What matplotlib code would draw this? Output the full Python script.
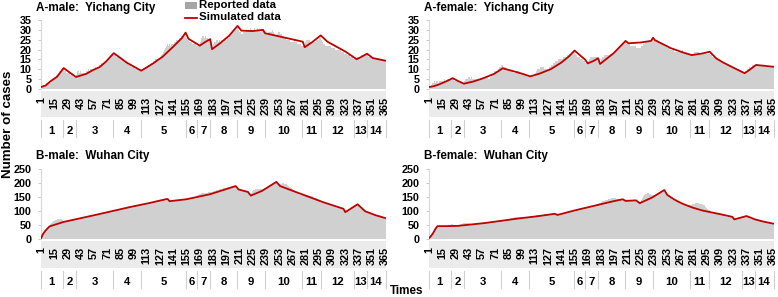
import numpy as np
import matplotlib
matplotlib.use("Agg")
import matplotlib.pyplot as plt
from matplotlib.patches import Rectangle
from matplotlib.lines import Line2D

plt.rcParams['font.family'] = ['Liberation Sans', 'DejaVu Sans']
plt.rcParams['font.weight'] = 'bold'

days = np.arange(1, 366)
tick_days = list(range(1, 366, 14))
group_edges = [1, 25, 39, 78, 107, 155, 167, 180, 209, 238, 278, 298, 333, 346, 366]
group_names = [str(i) for i in range(1, 15)]

# reported daily cases (14 days per row)
rep_a_male = [
    1, 0, 1, 2, 1, 2, 3, 2, 3, 4, 3, 4, 5, 5,
    6, 5, 7, 6, 8, 7, 9, 8, 10, 9, 10, 9, 9, 8,
    8, 8, 8, 7, 7, 7, 6, 6, 6, 6, 7, 9, 9, 8,
    9, 8, 8, 8, 8, 8, 9, 9, 10, 9, 10, 10, 10, 10,
    10, 10, 11, 10, 11, 11, 12, 12, 13, 12, 13, 13, 13, 14,
    14, 15, 15, 16, 16, 17, 17, 17, 17, 17, 16, 16, 16, 16,
    15, 15, 15, 14, 14, 14, 13, 13, 13, 12, 12, 12, 11, 11,
    11, 11, 10, 10, 10, 10, 9, 9, 9, 9, 10, 10, 10, 11,
    11, 11, 12, 12, 12, 13, 13, 14, 14, 15, 15, 15, 15, 15,
    16, 16, 17, 18, 19, 20, 21, 22, 23, 22, 23, 22, 23, 23,
    23, 24, 24, 25, 25, 25, 26, 26, 26, 27, 26, 27, 27, 27,
    26, 25, 25, 24, 24, 24, 23, 23, 23, 23, 22, 22, 22, 22,
    22, 24, 26, 27, 27, 26, 27, 26, 26, 25, 25, 25, 24, 21,
    22, 23, 24, 24, 25, 25, 24, 25, 24, 25, 24, 24, 25, 25,
    25, 26, 26, 27, 27, 28, 28, 29, 29, 30, 30, 30, 31, 30,
    29, 29, 28, 28, 29, 29, 29, 30, 30, 29, 30, 30, 31, 30,
    30, 30, 31, 30, 30, 31, 30, 30, 29, 30, 30, 29, 28, 28,
    28, 28, 28, 29, 29, 29, 29, 30, 29, 28, 27, 27, 28, 29,
    29, 28, 28, 27, 26, 26, 26, 26, 25, 25, 25, 25, 24, 24,
    24, 24, 25, 24, 24, 23, 23, 23, 23, 23, 22, 22, 22, 22,
    24, 25, 25, 25, 25, 24, 24, 24, 24, 24, 24, 25, 25, 25,
    25, 26, 26, 25, 24, 23, 23, 22, 22, 22, 22, 22, 22, 21,
    21, 21, 21, 21, 20, 20, 20, 20, 20, 20, 19, 19, 19, 18,
    18, 18, 17, 17, 17, 16, 16, 16, 16, 15, 15, 15, 15, 16,
    16, 16, 16, 17, 17, 17, 17, 18, 18, 17, 16, 16, 16, 16,
    16, 16, 16, 15, 15, 15, 15, 15, 15, 15, 14, 14, 14, 14,
    14,
]

rep_a_female = [
    1, 1, 1, 2, 3, 3, 4, 3, 4, 4, 3, 4, 4, 4,
    4, 4, 5, 4, 4, 4, 5, 5, 5, 5, 5, 5, 5, 4,
    4, 4, 4, 4, 3, 3, 3, 3, 3, 3, 4, 5, 5, 5,
    6, 6, 5, 6, 5, 5, 5, 5, 5, 5, 5, 5, 5, 5,
    5, 5, 6, 6, 6, 6, 6, 5, 5, 6, 7, 7, 8, 9,
    9, 9, 9, 10, 10, 11, 11, 12, 12, 11, 11, 11, 10, 10,
    10, 9, 9, 9, 9, 8, 8, 8, 8, 9, 9, 9, 8, 8,
    8, 8, 7, 7, 7, 7, 6, 6, 6, 6, 6, 7, 7, 7,
    7, 8, 9, 10, 10, 10, 11, 11, 11, 11, 10, 10, 10, 10,
    10, 11, 11, 11, 12, 12, 13, 13, 14, 14, 14, 15, 15, 15,
    15, 15, 16, 16, 16, 16, 16, 17, 17, 18, 18, 18, 19, 19,
    19, 18, 17, 16, 16, 16, 15, 15, 15, 14, 14, 14, 13, 13,
    13, 14, 15, 16, 16, 16, 16, 16, 16, 16, 16, 15, 14, 13,
    14, 15, 16, 16, 17, 17, 17, 17, 17, 17, 18, 18, 18, 19,
    19, 19, 20, 20, 20, 21, 21, 22, 22, 23, 23, 24, 24, 23,
    23, 23, 23, 22, 22, 22, 22, 22, 22, 22, 21, 21, 21, 21,
    21, 22, 22, 23, 23, 24, 24, 24, 24, 24, 24, 25, 26, 25,
    25, 25, 25, 25, 25, 24, 24, 24, 23, 23, 23, 22, 22, 22,
    21, 21, 21, 20, 20, 20, 20, 20, 19, 19, 19, 19, 19, 19,
    19, 19, 20, 19, 18, 18, 18, 17, 17, 17, 17, 17, 17, 18,
    18, 19, 19, 19, 19, 19, 18, 18, 18, 18, 18, 18, 18, 18,
    18, 18, 18, 18, 17, 17, 16, 16, 16, 15, 15, 15, 14, 14,
    14, 14, 13, 13, 13, 13, 12, 12, 12, 12, 12, 12, 11, 11,
    11, 11, 10, 10, 10, 10, 9, 9, 9, 9, 9, 8, 8, 9,
    9, 10, 10, 11, 11, 11, 12, 12, 12, 12, 12, 12, 12, 12,
    12, 12, 12, 12, 12, 11, 11, 11, 11, 11, 11, 11, 11, 11,
    11,
]

rep_b_male = [
    2, 9, 16, 22, 27, 31, 35, 39, 42, 46, 52, 58, 62, 64,
    66, 67, 68, 70, 70, 71, 72, 71, 70, 68, 66, 65, 65, 64,
    65, 66, 66, 67, 67, 68, 69, 69, 70, 71, 72, 73, 74, 75,
    75, 76, 77, 77, 78, 79, 79, 80, 81, 81, 82, 83, 84, 85,
    86, 86, 87, 88, 89, 89, 90, 91, 92, 93, 93, 94, 95, 96,
    97, 98, 98, 99, 100, 101, 102, 102, 103, 104, 105, 106, 106, 107,
    107, 108, 108, 109, 110, 111, 112, 112, 113, 114, 114, 115, 116, 117,
    118, 118, 119, 120, 121, 122, 122, 123, 124, 125, 126, 126, 127, 128,
    128, 129, 130, 131, 131, 132, 133, 133, 134, 135, 136, 137, 137, 138,
    139, 140, 140, 141, 141, 142, 143, 143, 138, 136, 136, 136, 137, 137,
    137, 137, 138, 138, 138, 139, 139, 139, 140, 140, 140, 141, 141, 142,
    142, 143, 144, 144, 145, 146, 147, 148, 149, 150, 152, 154, 156, 158,
    160, 162, 163, 164, 164, 165, 165, 166, 166, 167, 168, 168, 168, 169,
    170, 171, 172, 173, 174, 175, 176, 177, 178, 179, 180, 181, 182, 182,
    183, 184, 184, 185, 186, 187, 188, 188, 189, 189, 184, 180, 178, 176,
    175, 174, 173, 172, 171, 170, 169, 168, 168, 167, 165, 158, 160, 165,
    170, 174, 176, 178, 178, 179, 178, 178, 177, 177, 178, 180, 181, 182,
    182, 183, 185, 188, 190, 192, 194, 197, 199, 200, 200, 199, 197, 195,
    195, 196, 197, 198, 199, 199, 198, 197, 195, 192, 190, 187, 184, 181,
    178, 175, 172, 169, 166, 164, 162, 160, 158, 157, 157, 158, 158, 157,
    157, 157, 156, 156, 155, 154, 153, 152, 150, 148, 146, 145, 143, 142,
    140, 139, 137, 136, 134, 133, 131, 130, 129, 127, 126, 125, 124, 122,
    121, 120, 119, 118, 117, 116, 115, 113, 112, 111, 110, 109, 108, 104,
    98, 100, 103, 105, 107, 110, 112, 114, 116, 118, 120, 121, 123, 124,
    120, 116, 113, 110, 106, 103, 100, 98, 97, 96, 94, 93, 92, 91,
    90, 89, 88, 87, 86, 85, 84, 83, 82, 81, 80, 79, 78, 77,
    76,
]

rep_b_female = [
    3, 6, 10, 15, 19, 25, 31, 37, 42, 45, 46, 46, 46, 46,
    46, 46, 47, 47, 47, 48, 48, 49, 50, 51, 52, 52, 51, 50,
    50, 49, 49, 50, 51, 52, 53, 54, 55, 56, 56, 57, 57, 56,
    56, 56, 55, 55, 55, 55, 55, 55, 55, 56, 56, 56, 56, 56,
    56, 56, 57, 57, 58, 58, 59, 59, 60, 60, 61, 61, 62, 62,
    62, 63, 63, 64, 64, 65, 66, 66, 67, 67, 68, 69, 70, 71,
    72, 73, 74, 75, 76, 76, 77, 77, 78, 78, 79, 79, 80, 80,
    80, 80, 79, 79, 79, 79, 80, 80, 80, 81, 81, 82, 82, 83,
    83, 83, 84, 84, 85, 85, 86, 86, 87, 87, 88, 88, 88, 89,
    89, 90, 90, 90, 91, 91, 91, 92, 88, 86, 86, 87, 88, 89,
    90, 91, 92, 93, 94, 95, 96, 97, 97, 98, 99, 100, 101, 101,
    102, 103, 104, 105, 106, 107, 108, 109, 110, 111, 112, 113, 113, 114,
    115, 116, 117, 117, 118, 119, 120, 121, 122, 123, 124, 126, 128, 130,
    131, 132, 134, 135, 137, 138, 140, 141, 142, 143, 144, 145, 145, 145,
    145, 145, 144, 144, 143, 143, 143, 142, 142, 142, 140, 137, 136, 136,
    136, 136, 137, 137, 137, 137, 138, 138, 138, 138, 135, 132, 129, 128,
    132, 138, 145, 152, 156, 159, 161, 163, 163, 162, 160, 158, 156, 155,
    156, 157, 158, 160, 161, 163, 165, 167, 169, 170, 171, 172, 171, 168,
    160, 155, 151, 148, 145, 143, 141, 139, 137, 135, 134, 132, 131, 130,
    128, 127, 126, 124, 123, 122, 121, 120, 120, 120, 121, 122, 123, 124,
    125, 126, 127, 127, 127, 127, 126, 126, 125, 124, 122, 120, 117, 114,
    111, 108, 105, 102, 99, 97, 96, 94, 93, 92, 91, 90, 89, 88,
    87, 86, 85, 84, 83, 82, 81, 80, 79, 79, 78, 78, 77, 76,
    73, 70, 71, 72, 73, 74, 75, 76, 77, 78, 79, 80, 81, 82,
    82, 79, 77, 75, 73, 72, 71, 70, 70, 69, 68, 67, 66, 65,
    64, 63, 62, 61, 60, 60, 59, 58, 58, 57, 57, 56, 56, 55,
    55,
]

# simulated curves, read at the kinks and along the bends
sim_a_male_day = [1, 6, 11, 18, 25, 31, 38, 49, 56, 63, 70, 78, 92, 107, 113, 120, 130, 141, 150, 154,
                  157, 169, 175, 180, 182, 190, 200, 209, 213, 225, 236, 238, 278, 280, 288, 297, 304,
                  323, 335, 340, 346, 352, 365]
sim_a_male = [1.0, 1.8, 3.9, 6.2, 10.6, 8.5, 6.1, 7.7, 9.6, 11.1, 14.0, 18.2, 13.3, 9.3, 11.0, 13.1, 16.5,
              21.5, 25.8, 28.6, 25.5, 22.0, 23.9, 25.3, 20.2, 23.0, 27.0, 32.0, 29.6, 29.4, 30.0, 28.3,
              24.0, 21.2, 23.8, 27.2, 24.0, 19.0, 15.1, 16.3, 17.9, 15.7, 14.4]

sim_a_female_day = [1, 6, 11, 17, 22, 26, 32, 38, 48, 58, 70, 79, 92, 100, 108, 118, 130, 141, 149, 155,
                    162, 166, 169, 175, 180, 182, 196, 209, 212, 225, 236, 238, 240, 257, 270, 279, 290,
                    298, 305, 312, 324, 335, 341, 347, 365]
sim_a_female = [1.0, 1.4, 2.2, 3.4, 4.5, 5.5, 4.0, 2.7, 3.8, 5.4, 7.7, 10.5, 8.8, 7.7, 6.4, 7.8, 10.1,
                13.4, 16.5, 19.5, 16.6, 15.0, 13.0, 14.2, 15.6, 12.7, 18.0, 24.4, 23.2, 23.6, 24.4, 26.0,
                24.8, 20.7, 18.5, 17.2, 18.0, 18.9, 15.5, 13.5, 10.6, 8.0, 10.0, 12.2, 11.3]

sim_b_male_day = [1, 3, 6, 10, 25, 60, 95, 115, 133, 135, 137, 155, 180, 207, 210, 220, 223, 235, 250,
                  254, 280, 300, 321, 323, 336, 344, 355, 365]
sim_b_male = [2, 17, 31, 45, 61, 87, 114, 128, 142, 143, 135, 142, 160, 189, 177, 168, 155, 172, 204,
              189, 156, 131, 108, 96, 124, 99, 85, 75]

sim_b_female_day = [1, 3, 5, 8, 10, 20, 32, 60, 95, 115, 134, 137, 155, 180, 195, 206, 209, 220, 224,
                    237, 250, 253, 260, 265, 270, 280, 290, 300, 310, 322, 324, 337, 346, 355, 365]
sim_b_female = [3, 10, 19, 37, 46, 46, 47, 57, 73, 81, 90, 86, 102, 122, 134, 142, 136, 138, 128, 148,
                175, 158, 142, 133, 125, 112, 102, 95, 88, 79, 70, 82, 70, 62, 55]

for s in (rep_a_male, rep_a_female, rep_b_male, rep_b_female):
    assert len(s) == 365, len(s)

W, H = 778, 297
fig = plt.figure(figsize=(W / 100, H / 100), dpi=100)
BAR = '#d0d0d0'
RED = '#c00000'


def add_panel(left, top, right, bottom, rep, sday, sval, ymax, ystep, title):
    ax = fig.add_axes([left / W, 1 - bottom / H, (right - left) / W, (bottom - top) / H])
    ax.bar(days, rep, width=1.0, color=BAR, linewidth=0, zorder=1)
    ax.plot(sday, sval, color=RED, lw=1.3, zorder=3)
    ax.set_xlim(0.5, 365.5)
    ax.set_ylim(0, ymax)
    ax.set_yticks(np.arange(0, ymax + 1, ystep))
    ax.set_xticks(tick_days)
    ax.set_xticklabels([str(d) for d in tick_days], rotation=90)
    ax.tick_params(axis='x', length=0, pad=5.5, labelsize=7.8)
    ax.tick_params(axis='y', length=2.5, width=0.6, color='#bfbfbf', pad=4, labelsize=7.8)
    for sp in ('top', 'right', 'bottom'):
        ax.spines[sp].set_visible(False)
    ax.spines['left'].set_color('#d9d9d9')
    ax.spines['left'].set_linewidth(0.8)

    # light band behind the day labels
    ax.add_patch(Rectangle((0, -0.41), 1, 0.385, transform=ax.transAxes,
                           facecolor='#ebebeb', edgecolor='none', clip_on=False, zorder=0.5))
    tr = ax.get_xaxis_transform()
    for e in group_edges:
        ax.add_line(Line2D([e - 0.5, e - 0.5], [-0.45, -0.70], transform=tr,
                           color='#d0d0d0', lw=0.8, clip_on=False))
    for i, name in enumerate(group_names):
        c = (group_edges[i] + group_edges[i + 1] - 1) / 2
        ax.text(c, -0.61, name, transform=tr, ha='center', va='center', fontsize=8.2)

    fig.text((left - 4.5) / W, 1 - (top - 12.5) / H, title, ha='left', va='center', fontsize=8.4)
    return ax


add_panel(40.5, 20, 385.5, 89, rep_a_male, sim_a_male_day, sim_a_male, 35, 5, "A-male:  Yichang City")
add_panel(428.5, 20, 773.5, 89, rep_a_female, sim_a_female_day, sim_a_female, 35, 5, "A-female:  Yichang City")
add_panel(40.5, 169, 385.5, 239, rep_b_male, sim_b_male_day, sim_b_male, 250, 50, "B-male:  Wuhan City")
add_panel(428.5, 169, 773.5, 239, rep_b_female, sim_b_female_day, sim_b_female, 250, 50, "B-female:  Wuhan City")

# legend drawn by hand at the top centre of the first panel
fig.add_artist(Rectangle((185 / W, 1 - 9 / H), 12 / W, 7 / H, transform=fig.transFigure,
                         facecolor='#a6a6a6', edgecolor='none'))
fig.text(199 / W, 1 - 5.5 / H, "Reported data", ha='left', va='center', fontsize=8.2)
fig.add_artist(Line2D([185 / W, 197 / W], [1 - 17.5 / H, 1 - 17.5 / H], transform=fig.transFigure,
                      color=RED, lw=1.3))
fig.text(199 / W, 1 - 17.5 / H, "Simulated data", ha='left', va='center', fontsize=8.2)

fig.text(8 / W, 1 - 124 / H, "Number of cases", rotation=90, ha='center', va='center', fontsize=9.6)
fig.text(390 / W, 1 - 291.5 / H, "Times", ha='left', va='center', fontsize=8.4)

fig.savefig("out.png", dpi=100)
